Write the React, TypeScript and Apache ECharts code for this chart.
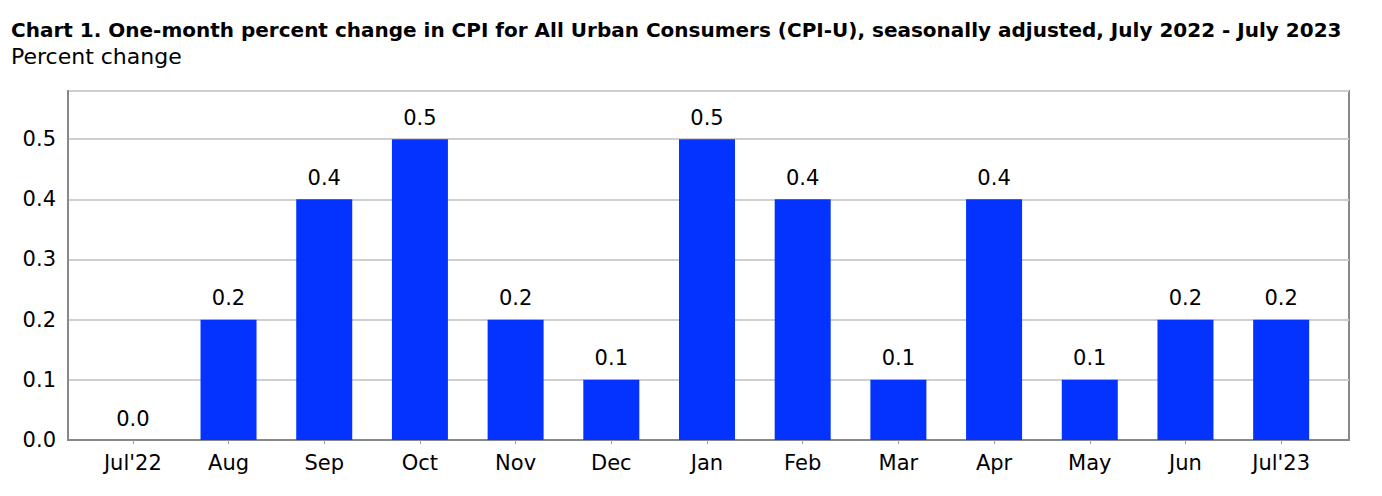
import React, { useEffect, useRef } from "react";
import * as echarts from "echarts";

const months = ["Jul'22", "Aug", "Sep", "Oct", "Nov", "Dec", "Jan", "Feb", "Mar", "Apr", "May", "Jun", "Jul'23"];
const pctChange = [0.0, 0.2, 0.4, 0.5, 0.2, 0.1, 0.5, 0.4, 0.1, 0.4, 0.1, 0.2, 0.2];

const FONT = "'DejaVu Sans', sans-serif";

const App: React.FC = () => {
  const chartRef = useRef<HTMLDivElement>(null);

  useEffect(() => {
    const dom = chartRef.current;
    if (!dom) return;
    const chart = echarts.init(dom, null, { renderer: "svg" });

    const option: echarts.EChartsOption = {
      animation: false,
      backgroundColor: "#fff",
      textStyle: { fontFamily: FONT },
      title: [
        {
          text: "Chart 1. One-month percent change in CPI for All Urban Consumers (CPI-U), seasonally adjusted, July 2022 - July 2023",
          left: 6,
          top: 15,
          textStyle: { fontFamily: FONT, fontSize: 20, fontWeight: "bold", color: "#000" },
        },
        {
          text: "Percent change",
          left: 6,
          top: 40,
          textStyle: { fontFamily: FONT, fontSize: 22, fontWeight: "normal", color: "#000" },
        },
      ],
      grid: [
        { left: 68, right: 33, top: 91, bottom: 56, show: true, borderColor: "#888", borderWidth: 2 },
        { left: 85, right: 53, top: 91, bottom: 56 },
      ],
      xAxis: [
        {
          type: "value",
          gridIndex: 0,
          min: 0,
          max: 1,
          axisLine: { show: true, lineStyle: { color: "#888", width: 2 } },
          axisTick: { show: false },
          axisLabel: { show: false },
          splitLine: { show: false },
        },
        {
          type: "category",
          gridIndex: 1,
          data: months,
          axisLine: { show: false },
          axisTick: { show: true, alignWithLabel: true, interval: 0, length: 4, lineStyle: { color: "#999", width: 1 } },
          axisLabel: { interval: 0, fontSize: 21, color: "#000", fontFamily: FONT, margin: 12 },
        },
      ],
      yAxis: [
        {
          type: "value",
          gridIndex: 0,
          min: 0,
          max: 0.58,
          interval: 0.1,
          axisLine: { show: true, lineStyle: { color: "#888", width: 2 } },
          axisTick: { show: false },
          axisLabel: {
            showMaxLabel: false,
            fontSize: 21,
            color: "#000",
            fontFamily: FONT,
            margin: 12,
            formatter: (v: number) => v.toFixed(1),
          },
          splitLine: { show: true, lineStyle: { color: "#cfcfcf", width: 2 } },
        },
        {
          type: "value",
          gridIndex: 1,
          min: 0,
          max: 0.58,
          show: false,
        },
      ],
      series: [
        {
          type: "bar",
          xAxisIndex: 1,
          yAxisIndex: 1,
          data: pctChange,
          barWidth: 56,
          itemStyle: { color: "#0433ff" },
          label: {
            show: true,
            position: "top",
            distance: 11,
            fontSize: 21,
            color: "#000",
            fontFamily: FONT,
            formatter: (p: any) => Number(p.value).toFixed(1),
          },
        },
      ],
    };

    chart.setOption(option);
    return () => chart.dispose();
  }, []);

  return (
    <div
      ref={chartRef}
      style={{ position: "fixed", left: 0, top: 0, width: 1382, height: 496 }}
    />
  );
};

export default App;
